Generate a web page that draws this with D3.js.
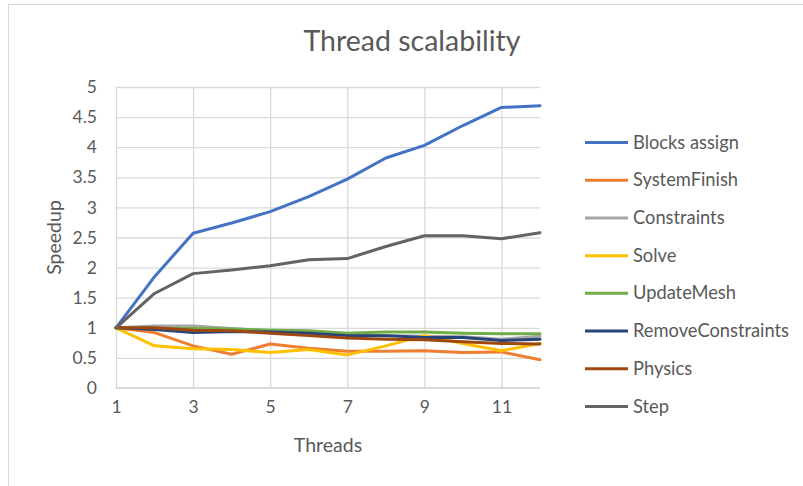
<!DOCTYPE html>
<html>
<head>
<meta charset="utf-8">
<script src="https://cdn.jsdelivr.net/npm/d3@7/dist/d3.min.js"></script>
<style>
  html, body { margin: 0; padding: 0; background: #fff; }
  svg { display: block; font-family: Lato, "Open Sans", sans-serif; }
</style>
</head>
<body>
<svg id="chart" width="803" height="486"></svg>
<script>
// Thread counts on the x axis
const threads = [1, 2, 3, 4, 5, 6, 7, 8, 9, 10, 11, 12];
const xTickLabels = [1, 3, 5, 7, 9, 11];
const yTickLabels = [0, 0.5, 1, 1.5, 2, 2.5, 3, 3.5, 4, 4.5, 5];

// Speedup per stage, relative to one thread
const blocksAssign      = [1, 1.85, 2.57, 2.74, 2.93, 3.18, 3.47, 3.82, 4.03, 4.36, 4.66, 4.69];
const systemFinish      = [1, 0.92, 0.70, 0.56, 0.73, 0.66, 0.61, 0.61, 0.62, 0.59, 0.60, 0.47];
const constraints       = [1, 1.03, 1.03, 0.99, 0.95, 0.92, 0.89, 0.87, 0.86, 0.85, 0.81, 0.86];
const solve             = [1, 0.70, 0.65, 0.64, 0.59, 0.64, 0.55, 0.70, 0.87, 0.74, 0.62, 0.74];
const updateMesh        = [1, 0.99, 0.99, 0.98, 0.96, 0.95, 0.91, 0.93, 0.93, 0.91, 0.90, 0.90];
const removeConstraints = [1, 0.97, 0.92, 0.94, 0.93, 0.91, 0.87, 0.87, 0.84, 0.84, 0.79, 0.81];
const physics           = [1, 1.00, 0.96, 0.95, 0.91, 0.87, 0.83, 0.81, 0.80, 0.77, 0.74, 0.73];
const step              = [1, 1.57, 1.90, 1.96, 2.03, 2.13, 2.15, 2.35, 2.53, 2.53, 2.48, 2.58];

const seriesNames = ["Blocks assign", "SystemFinish", "Constraints", "Solve",
                     "UpdateMesh", "RemoveConstraints", "Physics", "Step"];
const seriesValues = [blocksAssign, systemFinish, constraints, solve,
                      updateMesh, removeConstraints, physics, step];
const seriesColors = ["#4472C4", "#ED7D31", "#A5A5A5", "#FFC000",
                      "#70AD47", "#264478", "#9E480E", "#636363"];

const svg = d3.select("#chart");

// Outer chart frame
svg.append("rect")
  .attr("x", 8.5).attr("y", 4.5)
  .attr("width", 900).attr("height", 600)
  .attr("fill", "#fff").attr("stroke", "#d9d9d9").attr("stroke-width", 1);

const plot = { left: 116, right: 540, top: 87, bottom: 388 };

const x = d3.scaleLinear().domain([1, 12]).range([plot.left, plot.right]);
const y = d3.scaleLinear().domain([0, 5]).range([plot.bottom, plot.top]);

// Horizontal gridlines
svg.append("g")
  .attr("transform", `translate(${plot.left},0)`)
  .call(d3.axisLeft(y).tickValues(yTickLabels.slice(1))
          .tickSize(-(plot.right - plot.left)).tickFormat(""))
  .call(g => g.select(".domain").remove())
  .call(g => g.selectAll("line").attr("stroke", "#d9d9d9").attr("stroke-width", 1.3));

// Vertical gridlines at the labelled thread counts
svg.append("g")
  .attr("transform", `translate(0,${plot.bottom})`)
  .call(d3.axisBottom(x).tickValues(xTickLabels)
          .tickSize(-(plot.bottom - plot.top)).tickFormat(""))
  .call(g => g.select(".domain").remove())
  .call(g => g.selectAll("line").attr("stroke", "#d9d9d9").attr("stroke-width", 1.3));

// Category axis line
svg.append("line")
  .attr("x1", plot.left).attr("x2", plot.right)
  .attr("y1", plot.bottom).attr("y2", plot.bottom)
  .attr("stroke", "#cfcfcf").attr("stroke-width", 1.5);

// Y tick labels
svg.append("g")
  .attr("transform", `translate(${plot.left},0)`)
  .call(d3.axisLeft(y).tickValues(yTickLabels).tickSize(0).tickPadding(19)
          .tickFormat(d => String(d)))
  .call(g => g.select(".domain").remove())
  .call(g => g.selectAll("text")
      .attr("fill", "#595959").style("font-size", "17.5px")
      .style("font-family", "Lato, sans-serif"));

// X tick labels
svg.append("g")
  .attr("transform", `translate(0,${plot.bottom})`)
  .call(d3.axisBottom(x).tickValues(xTickLabels).tickSize(0).tickPadding(13)
          .tickFormat(d => String(d)))
  .call(g => g.select(".domain").remove())
  .call(g => g.selectAll("text")
      .attr("fill", "#595959").style("font-size", "17.5px")
      .style("font-family", "Lato, sans-serif"));

// Series lines
const line = d3.line()
  .x((d, i) => x(threads[i]))
  .y(d => y(d));

svg.append("g").selectAll("path")
  .data(seriesValues)
  .join("path")
  .attr("d", d => line(d))
  .attr("fill", "none")
  .attr("stroke", (d, i) => seriesColors[i])
  .attr("stroke-width", 3)
  .attr("stroke-linejoin", "round")
  .attr("stroke-linecap", "round");

// Title
svg.append("text")
  .attr("x", 412).attr("y", 51)
  .attr("text-anchor", "middle")
  .attr("fill", "#595959")
  .style("font-size", "28.5px")
  .text("Thread scalability");

// Axis titles
svg.append("text")
  .attr("x", (plot.left + plot.right) / 2).attr("y", 452)
  .attr("text-anchor", "middle")
  .attr("fill", "#595959")
  .style("font-size", "19.5px")
  .text("Threads");

svg.append("text")
  .attr("transform", `translate(61,${(plot.top + plot.bottom) / 2}) rotate(-90)`)
  .attr("text-anchor", "middle")
  .attr("fill", "#595959")
  .style("font-size", "19.5px")
  .text("Speedup");

// Legend
const legend = svg.append("g");
const legendRow = d3.scaleLinear().domain([0, 7]).range([142.5, 406.5]);
const rows = legend.selectAll("g")
  .data(seriesNames)
  .join("g")
  .attr("transform", (d, i) => `translate(585,${legendRow(i)})`);
rows.append("line")
  .attr("x1", 0).attr("x2", 43)
  .attr("stroke", (d, i) => seriesColors[i])
  .attr("stroke-width", 3);
rows.append("text")
  .attr("x", 48).attr("y", 6)
  .attr("fill", "#595959")
  .style("font-size", "18.3px")
  .text(d => d);
</script>
</body>
</html>
